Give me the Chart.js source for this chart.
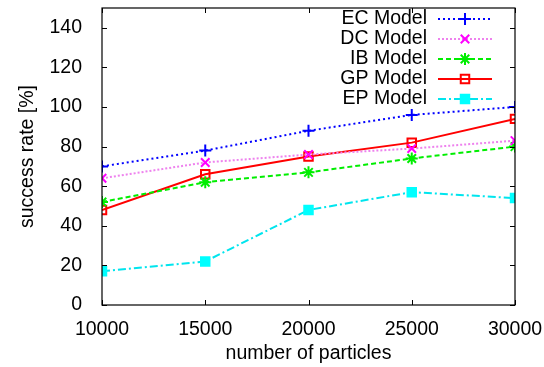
<!DOCTYPE html>
<html>
<head>
<meta charset="utf-8">
<script src="https://cdn.jsdelivr.net/npm/chart.js@4.4.1/dist/chart.umd.min.js"></script>
<style>
  body { margin: 0; background: #fff; }
  #wrap { width: 544px; height: 367px; }
</style>
</head>
<body>
<div id="wrap"><canvas id="chart" width="544" height="367"></canvas></div>
<script>
// data
var particles = [10000, 15000, 20000, 25000, 30000];
var ecModel = [70, 78, 88, 96, 100];
var dcModel = [64, 72, 76, 79, 83];
var ibModel = [52, 62, 67, 74, 80];
var gpModel = [48, 66, 75, 82, 94];
var epModel = [17, 22, 48, 57, 54];
var yTicks = [0, 20, 40, 60, 80, 100, 120, 140];
var xTicks = [10000, 15000, 20000, 25000, 30000];

var FONT = 'Liberation Sans, Arial, sans-serif';
var FSIZE = 19.5;

function pts(vals) {
    return vals.map(function(v, i) { return { x: particles[i], y: v }; });
}

var series = [
    { label: 'EC Model', data: ecModel, color: '#0000ff', line: '#0000ff', dash: [2, 3], style: 'cross', fill: false },
    { label: 'DC Model', data: dcModel, color: '#ff00ff', line: '#ee82ee', dash: [2, 2], style: 'crossRot', fill: false },
    { label: 'IB Model', data: ibModel, color: '#00ee00', line: '#00ee00', dash: [5, 3], style: 'star', fill: false },
    { label: 'GP Model', data: gpModel, color: '#ff0000', line: '#ff0000', dash: [], style: 'rect', fill: false },
    { label: 'EP Model', data: epModel, color: '#00ffff', line: '#00e5ee', dash: [8, 3, 2, 3], style: 'rect', fill: true }
];

var datasets = series.map(function(s) {
    return {
        label: s.label,
        data: pts(s.data),
        borderColor: s.line,
        borderWidth: 2,
        borderDash: s.dash,
        pointStyle: s.style,
        pointRadius: 6,
        pointBorderColor: s.color,
        pointBackgroundColor: s.fill ? s.color : 'rgba(0,0,0,0)',
        pointBorderWidth: 2,
        tension: 0
    };
});

// frame, inward ticks and legend like gnuplot
var framePlugin = {
    id: 'frame',
    afterDatasetsDraw: function(chart) {
        var ctx = chart.ctx;
        var a = chart.chartArea;
        var xs = chart.scales.x, ys = chart.scales.y;
        ctx.save();
        ctx.strokeStyle = '#000';
        ctx.lineWidth = 1.2;
        ctx.strokeRect(a.left, a.top, a.right - a.left, a.bottom - a.top);
        ctx.lineWidth = 1;
        xTicks.forEach(function(t) {
            var px = Math.round(xs.getPixelForValue(t)) + 0.5;
            ctx.beginPath();
            ctx.moveTo(px, a.bottom); ctx.lineTo(px, a.bottom - 5);
            ctx.moveTo(px, a.top); ctx.lineTo(px, a.top + 5);
            ctx.stroke();
        });
        yTicks.forEach(function(t) {
            var py = Math.round(ys.getPixelForValue(t)) + 0.5;
            ctx.beginPath();
            ctx.moveTo(a.left, py); ctx.lineTo(a.left + 5, py);
            ctx.moveTo(a.right, py); ctx.lineTo(a.right - 5, py);
            ctx.stroke();
        });

        // legend
        ctx.font = FSIZE + 'px ' + FONT;
        ctx.textAlign = 'right';
        ctx.textBaseline = 'middle';
        series.forEach(function(s, i) {
            var y = 19 + i * 20;
            ctx.fillStyle = '#000';
            ctx.fillText(s.label, 427, y);
            ctx.strokeStyle = s.line;
            ctx.lineWidth = 2;
            ctx.setLineDash(s.dash);
            ctx.beginPath();
            ctx.moveTo(438, y); ctx.lineTo(492, y);
            ctx.stroke();
            ctx.setLineDash([]);
            ctx.strokeStyle = s.color;
            ctx.fillStyle = s.fill ? s.color : 'rgba(0,0,0,0)';
            Chart.helpers.drawPoint(ctx, {
                pointStyle: s.style, radius: 6, rotation: 0, borderWidth: 2
            }, 465, y);
        });
        ctx.restore();
    }
};

Chart.defaults.font.family = FONT;
Chart.defaults.font.size = FSIZE;
Chart.defaults.color = '#000';

new Chart(document.getElementById('chart'), {
    type: 'line',
    data: { datasets: datasets },
    options: {
        responsive: false,
        animation: false,
        layout: { padding: { top: 5, right: 29, left: 0, bottom: 0 } },
        plugins: { legend: { display: false }, tooltip: { enabled: false } },
        scales: {
            x: {
                type: 'linear',
                min: 10000, max: 30000,
                grid: { display: false },
                border: { display: false },
                afterBuildTicks: function(s) { s.ticks = xTicks.map(function(v) { return { value: v }; }); },
                ticks: { padding: 5, maxRotation: 0, callback: function(v) { return String(v); } },
                title: { display: true, text: 'number of particles', padding: { top: 0, bottom: 2 } },
                afterFit: function(s) { s.height = 62; s.paddingLeft = 0; s.paddingRight = 0; }
            },
            y: {
                min: 0, max: 150,
                grid: { display: false },
                border: { display: false },
                afterBuildTicks: function(s) { s.ticks = yTicks.map(function(v) { return { value: v }; }); },
                ticks: { padding: 12 },
                title: { display: true, text: 'success rate [%]', padding: { top: 16, bottom: 0 } },
                afterFit: function(s) { s.width = 102; s.paddingTop = 0; s.paddingBottom = 0; }
            }
        }
    },
    plugins: [framePlugin]
});
</script>
</body>
</html>
